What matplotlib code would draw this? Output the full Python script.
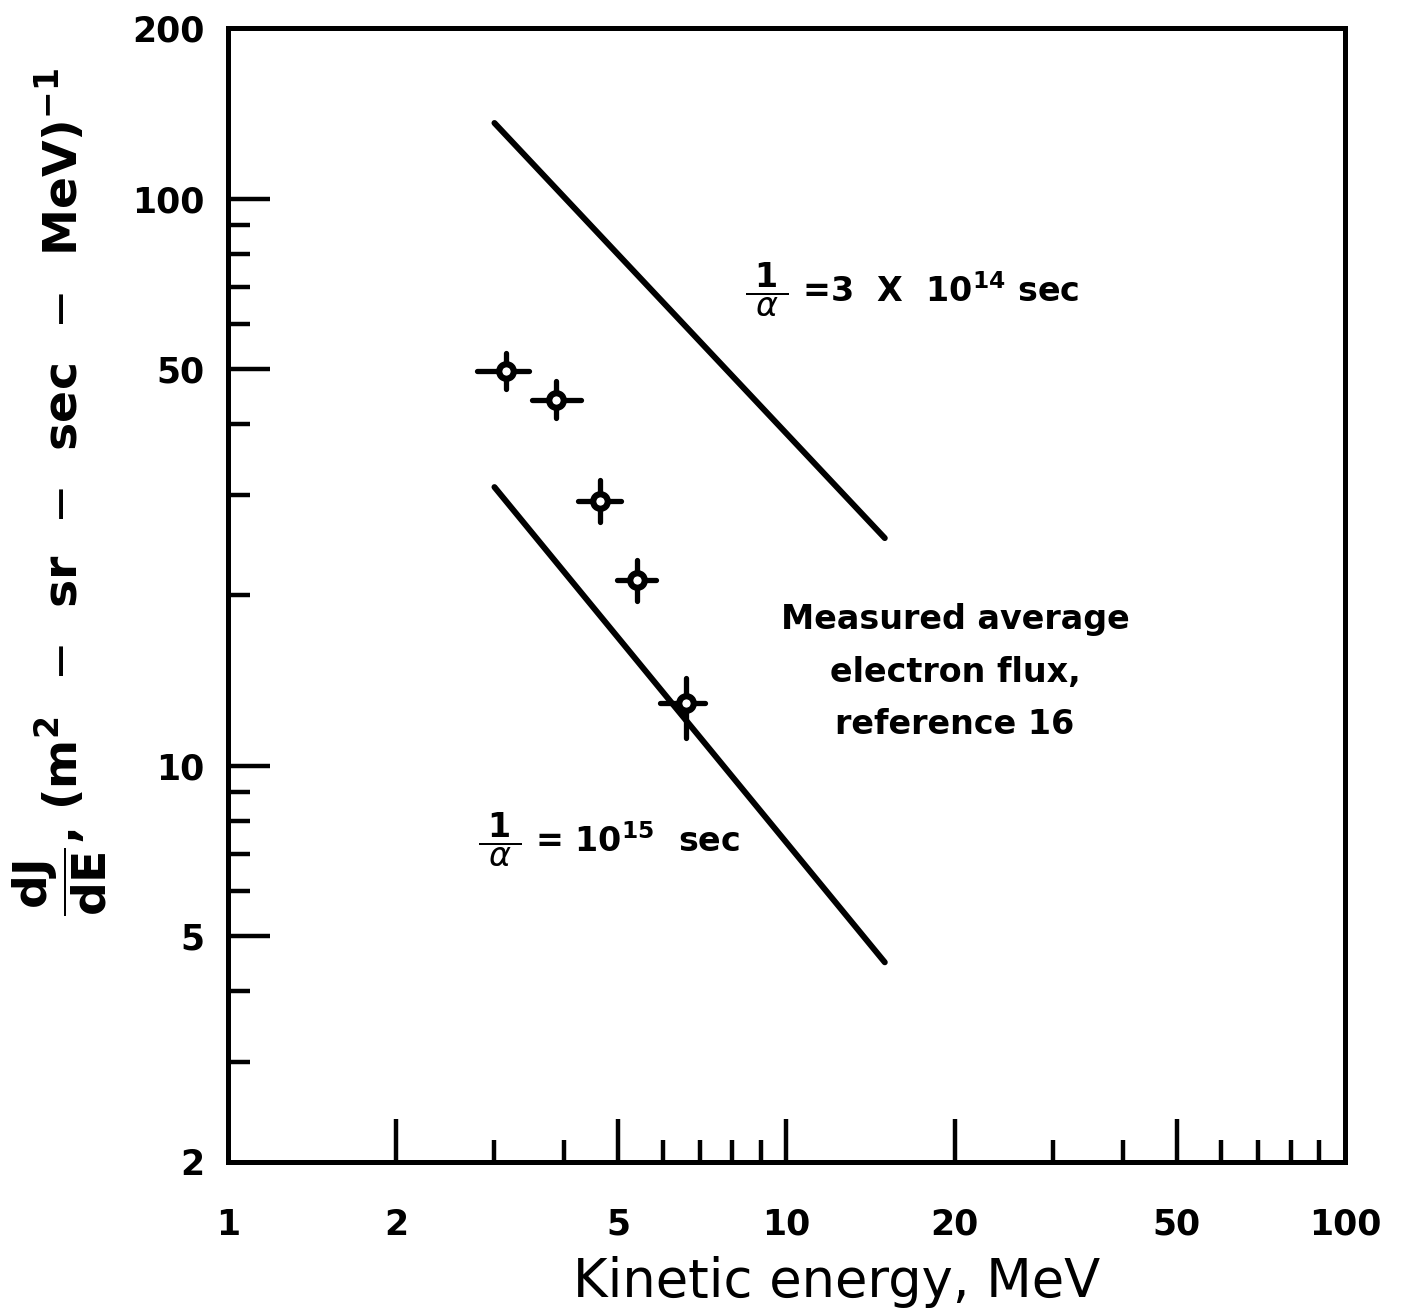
import matplotlib
matplotlib.use('Agg')
import matplotlib.pyplot as plt
import numpy as np

# measured average electron flux (reference 16)
energy = [3.15, 3.87, 4.64, 5.40, 6.61]
energy_lo = [2.79, 3.50, 4.24, 4.97, 5.93]
energy_hi = [3.46, 4.28, 5.06, 5.84, 7.14]
flux = [49.6, 44.2, 29.3, 21.25, 12.9]
flux_lo = [46.1, 41.0, 26.9, 19.5, 11.2]
flux_hi = [53.4, 47.6, 31.9, 23.1, 14.3]

# model lines, 1/alpha = 3e14 sec and 1e15 sec
line_e = [3.0, 15.0]
line_3e14 = [136.0, 25.2]
line_1e15 = [31.0, 4.5]

xticks = [1, 2, 5, 10, 20, 50, 100]
xtick_labels = ['1', '2', '5', '10', '20', '50', '100']
yticks = [2, 5, 10, 50, 100, 200]
ytick_labels = ['2', '5', '10', '50', '100', '200']

plt.rcParams['font.family'] = ['DejaVu Sans']
plt.rcParams['mathtext.fontset'] = 'dejavusans'

fig = plt.figure(figsize=(14.04, 13.10), dpi=100)
ax = fig.add_axes([0.1624, 0.113, 0.7955, 0.8656])
ax.set_xscale('log')
ax.set_yscale('log')
ax.set_xlim(1, 100)
ax.set_ylim(2, 200)

lw = 4.3
ax.plot(line_e, line_3e14, color='black', lw=lw, solid_capstyle='round')
ax.plot(line_e, line_1e15, color='black', lw=lw, solid_capstyle='round')

e = np.array(energy)
f = np.array(flux)
xerr = [e - np.array(energy_lo), np.array(energy_hi) - e]
yerr = [f - np.array(flux_lo), np.array(flux_hi) - f]
_, _, bars = ax.errorbar(e, f, xerr=xerr, yerr=yerr, fmt='o', color='black',
                         mfc='white', mec='black', ms=10.5, mew=4.5,
                         elinewidth=3.8, capsize=0, zorder=3)
for b in bars:
    b.set_capstyle('round')

# ticks
for s in ax.spines.values():
    s.set_linewidth(3.6)
ax.set_xticks(xticks)
ax.set_xticklabels(xtick_labels)
ax.set_yticks(yticks)
ax.set_yticklabels(ytick_labels)
ax.set_xticks([3, 4, 6, 7, 8, 9, 30, 40, 60, 70, 80, 90], minor=True)
ax.set_yticks([3, 4, 6, 7, 8, 9, 20, 30, 40, 60, 70, 80, 90], minor=True)
ax.xaxis.set_minor_formatter(matplotlib.ticker.NullFormatter())
ax.yaxis.set_minor_formatter(matplotlib.ticker.NullFormatter())
ax.tick_params(which='both', direction='in', top=False, right=False, width=3.2)
ax.tick_params(which='major', length=31)
ax.tick_params(which='minor', length=16)
ax.tick_params(axis='x', which='major', pad=33, labelsize=25)
ax.tick_params(axis='y', which='major', pad=17, labelsize=25)
ax.tick_params(axis='y', which='major', length=30)
for lab in ax.get_xticklabels() + ax.get_yticklabels():
    lab.set_fontweight('bold')
# no ticks drawn on the limits (they sit on the frame)
for t in ax.xaxis.get_major_ticks():
    if t.get_loc() in (1, 100):
        t.tick1line.set_visible(False)
for t in ax.yaxis.get_major_ticks():
    if t.get_loc() in (2, 200):
        t.tick1line.set_visible(False)

ax.set_xlabel('Kinetic energy, MeV', fontsize=38)
ax.xaxis.set_label_coords(0.545, -0.083)
ax.set_ylabel(r'$\dfrac{\mathbf{dJ}}{\mathbf{dE}}$, (m$^{\mathbf{2}}$ $\,-\,$ sr $\,-\,$ sec $\,-\,$ MeV)$^{\mathbf{-1}}$',
              fontsize=34, fontweight='bold')
ax.yaxis.set_label_coords(-0.107, 0.591)

ax.text(0.463, 0.769, r'$\dfrac{\;\mathbf{1}\;}{\;\alpha\;}$ =3  X  10$^{\mathbf{14}}$ sec', transform=ax.transAxes,
        fontsize=24, fontweight='bold', ha='left', va='center')
ax.text(0.651, 0.432, 'Measured average\nelectron flux,\nreference 16', transform=ax.transAxes,
        fontsize=24, fontweight='bold', ha='center', va='center', linespacing=1.75)
ax.text(0.224, 0.284, r'$\dfrac{\;\mathbf{1}\;}{\;\alpha\;}$ = 10$^{\mathbf{15}}$  sec', transform=ax.transAxes,
        fontsize=24, fontweight='bold', ha='left', va='center')

fig.savefig('out.png', dpi=100)
